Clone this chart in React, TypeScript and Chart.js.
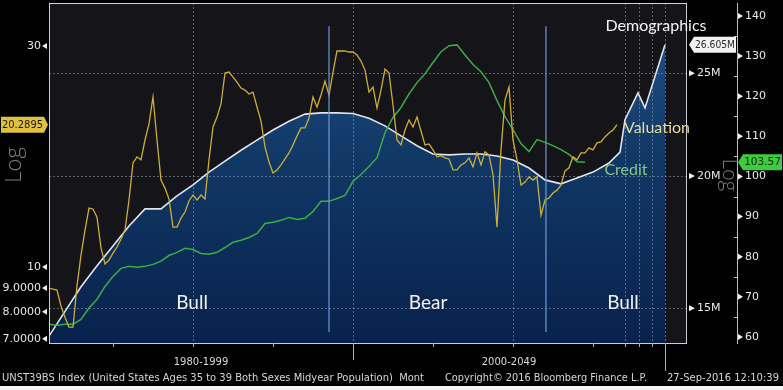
import React, { useEffect, useRef } from 'react';
import { Chart, registerables } from 'chart.js';

Chart.register(...registerables);

// ---------- data ----------
const X_MIN = 1981.0;
const X_MAX = 2020.875;

// Valuation (left log axis), quarterly from 1981
const VAL_START = 1981.0;
const VAL_STEP = 0.25;
const valuation = [
  9.0, 8.95, 8.91, 8.23, 7.79, 7.41, 7.41, 9.1, 10.61, 12.01,
  13.4, 13.34, 12.81, 10.99, 10.15, 10.35, 10.71, 11.04, 11.49, 12.01,
  13.95, 16.78, 17.29, 17.03, 18.8, 20.36, 23.28, 18.8, 15.4, 14.8,
  14.02, 12.19, 12.19, 12.75, 13.14, 13.88, 14.3, 13.95, 14.3, 14.02,
  17.03, 20.06, 21.08, 22.49, 26.23, 26.36, 25.71, 25.07, 24.34, 24.1,
  23.63, 23.86, 22.15, 20.66, 18.17, 16.85, 15.96, 16.2, 16.61, 17.11,
  17.63, 18.35, 19.18, 19.96, 19.96, 20.98, 23.28, 22.15, 23.51, 25.2,
  23.51, 26.36, 29.27, 29.27, 29.27, 29.12, 29.12, 28.69, 27.84, 26.62,
  23.86, 24.46, 22.04, 24.1, 26.76, 26.23, 22.37, 18.8, 18.35, 19.76,
  20.77, 20.06, 21.08, 19.66, 18.35, 18.44, 17.9, 17.29, 17.38, 17.2,
  17.11, 16.2, 16.2, 16.61, 16.78, 17.2, 16.45, 17.63, 16.61, 17.72,
  17.46, 15.8, 12.19, 17.9, 22.93, 24.46, 18.8, 17.03, 15.02, 15.25,
  15.65, 15.4, 15.65, 12.94, 13.95, 14.09, 14.44, 14.65, 15.02, 16.12,
  16.37, 17.29, 17.03, 17.63, 17.63, 18.08, 17.9, 18.53, 18.62, 19.09,
  19.47, 19.76, 20.29,
];

// Credit (right linear axis), half-yearly from 1981
const CREDIT_START = 1981.0;
const CREDIT_STEP = 0.5;
const credit = [
  63.2, 62.9, 63.2, 63.2, 64.4, 67.2, 69.4, 72.6, 75.1, 77.1,
  77.6, 77.4, 77.6, 78.1, 78.9, 80.3, 81.1, 82.1, 81.8, 80.8,
  80.6, 81.1, 82.3, 83.6, 84.1, 84.8, 85.8, 88.3, 88.6, 89.1,
  89.8, 89.3, 89.6, 91.3, 93.8, 93.8, 94.5, 95.3, 98.8, 100.5,
  102.5, 104.7, 110.9, 114.7, 117.2, 120.6, 123.4, 125.6, 128.4, 131.1,
  132.6, 132.8, 130.3, 127.9, 126.1, 123.4, 118.9, 114.9, 111.7, 108.2,
  106.2, 109.2, 108.5, 107.7, 106.7, 105.5, 103.7, 103.57,
];

// Demographics (middle log axis, millions)
const demoYears = [
  1981, 1982, 1983, 1984, 1985, 1986, 1987, 1988, 1989, 1990,
  1991, 1992, 1993, 1994, 1995, 1996, 1997, 1998, 1999, 2000,
  2001, 2002, 2003, 2004, 2005, 2006, 2007, 2008, 2009, 2010,
  2011, 2012, 2013, 2014, 2015, 2016, 2016.69, 2017.0, 2017.81, 2018.25,
  2019.5,
];
const demoValues = [
  14.12, 14.9, 15.72, 16.45, 17.18, 17.94, 18.62, 18.62, 19.15, 19.62,
  20.17, 20.66, 21.15, 21.62, 22.1, 22.53, 22.88, 22.94, 22.94, 22.91,
  22.67, 22.3, 21.82, 21.36, 20.98, 20.94, 20.98, 20.98, 20.89, 20.71,
  20.35, 19.83, 19.66, 19.91, 20.17, 20.57, 21.07, 22.6, 23.96, 23.19,
  26.605,
];

const LAST_VALUATION = 20.2895;
const LAST_DEMO = 26.605;
const LAST_CREDIT = 103.57;

// axes
const valTicks = [7, 8, 9, 10, 30];
const valTickLabels = ['7.0000', '8.0000', '9.0000', '10', '30'];
const demoTicks = [15, 20, 25];
const demoTickLabels = ['15M', '20M', '25M'];
const creditTicks = [60, 70, 80, 90, 100, 110, 120, 130, 140];
const creditMinorTicks = [65, 75, 85, 95, 105, 115, 125, 135];

const gridYears = [1990, 2000, 2010, 2017.0, 2017.875, 2018.69, 2019.5];
const tickYears = [1985, 1990, 1995, 2005, 2010, 2015, 2017.0, 2017.875, 2018.69];
const periodBreaks = [2000, 2019.5];
const periodLabels = ['1980-1999', '2000-2049'];
const regimeBreaks = [1998.5, 2012.06];
const regimeNames = ['Bull', 'Bear', 'Bull'];
const regimeNameYears = [1989.94, 2004.69, 2016.875];

const footerTexts = [
  'UNST39BS Index (United States Ages 35 to 39 Both Sexes Midyear Population)  Mont',
  'Copyright\u00A9 2016 Bloomberg Finance L.P.',
  '27-Sep-2016 12:10:39',
];

// ---------- plugin ----------
function line(ctx: CanvasRenderingContext2D, x1: number, y1: number, x2: number, y2: number) {
  ctx.beginPath();
  ctx.moveTo(x1, y1);
  ctx.lineTo(x2, y2);
  ctx.stroke();
}

function tri(ctx: CanvasRenderingContext2D, pts: number[][]) {
  ctx.beginPath();
  ctx.moveTo(pts[0][0], pts[0][1]);
  for (let i = 1; i < pts.length; i++) ctx.lineTo(pts[i][0], pts[i][1]);
  ctx.closePath();
  ctx.fill();
}

const bbgPlugin = {
  id: 'bbg',
  beforeDraw(chart: any) {
    const { ctx, chartArea: a, width, height } = chart;
    ctx.save();
    ctx.fillStyle = '#000';
    ctx.fillRect(0, 0, width, height);
    ctx.fillStyle = '#f4f4f4';
    ctx.fillRect(0, height - 4, width, 4);
    ctx.fillStyle = '#141419';
    ctx.fillRect(a.left, a.top, a.right - a.left, a.bottom - a.top);
    ctx.restore();
  },
  afterDatasetDraw(chart: any, args: any) {
    if (args.index !== 0) return;
    const { ctx, chartArea: a } = chart;
    const xs = chart.scales.x;
    const yD = chart.scales.yDemo;
    ctx.save();
    ctx.beginPath();
    ctx.rect(a.left, a.top, a.right - a.left, a.bottom - a.top);
    ctx.clip();
    ctx.strokeStyle = 'rgba(150,160,180,0.55)';
    ctx.lineWidth = 1;
    ctx.setLineDash([2, 2]);
    for (const yr of gridYears) {
      const px = Math.round(xs.getPixelForValue(yr)) + 0.5;
      line(ctx, px, a.top, px, a.bottom);
    }
    for (const v of demoTicks) {
      const py = Math.round(yD.getPixelForValue(v)) + 0.5;
      line(ctx, a.left, py, a.right, py);
    }
    ctx.restore();
  },
  afterDatasetsDraw(chart: any) {
    const { ctx, chartArea: a } = chart;
    const xs = chart.scales.x;
    const yV = chart.scales.yVal;
    const yD = chart.scales.yDemo;
    const yC = chart.scales.yCredit;
    ctx.save();

    // regime lines
    ctx.strokeStyle = '#6c9ad6';
    ctx.lineWidth = 1.2;
    for (const yr of regimeBreaks) {
      const px = xs.getPixelForValue(yr);
      line(ctx, px, yD.getPixelForValue(27.7), px, yD.getPixelForValue(14.25));
    }

    // frame
    ctx.strokeStyle = '#cfcfcf';
    ctx.lineWidth = 1;
    ctx.strokeRect(a.left + 0.5, a.top + 0.5, a.right - a.left - 1, a.bottom - a.top);

    // bottom ticks and separators
    ctx.strokeStyle = '#b0b0b0';
    for (const yr of tickYears) {
      const px = Math.round(xs.getPixelForValue(yr)) + 0.5;
      line(ctx, px, a.bottom, px, a.bottom + 4);
    }
    const sepLen = [17, 28];
    periodBreaks.forEach((yr, i) => {
      const px = Math.round(xs.getPixelForValue(yr)) + 0.5;
      line(ctx, px, a.bottom, px, a.bottom + sepLen[i]);
    });

    // period labels
    ctx.fillStyle = '#d8d8d8';
    ctx.font = '10px "DejaVu Sans"';
    ctx.textAlign = 'center';
    ctx.textBaseline = 'middle';
    const edges = [a.left, ...periodBreaks.map((y) => xs.getPixelForValue(y))];
    periodLabels.forEach((t, i) => {
      ctx.fillText(t, (edges[i] + edges[i + 1]) / 2, 362);
    });

    // footer
    ctx.textAlign = 'left';
    ctx.font = '10.5px "DejaVu Sans"';
    ctx.fillStyle = '#d6d6d6';
    ctx.fillText(footerTexts[0], 2, 378, 422);
    ctx.fillText(footerTexts[1], 445, 378, 202);
    ctx.fillText(footerTexts[2], 667, 378, 112);

    // tick triangles
    ctx.fillStyle = '#f0f0f0';
    for (const v of valTicks) {
      const py = yV.getPixelForValue(v);
      tri(ctx, [[42, py], [47, py - 3], [47, py + 3]]);
    }
    for (const v of demoTicks) {
      const py = yD.getPixelForValue(v);
      tri(ctx, [[a.right + 2, py - 3], [a.right + 2, py + 3], [a.right + 8, py]]);
    }
    for (const v of creditTicks) {
      const py = yC.getPixelForValue(v);
      tri(ctx, [[yC.left + 1, py - 3], [yC.left + 1, py + 3], [yC.left + 6, py]]);
    }
    ctx.strokeStyle = '#bdbdbd';
    for (const v of creditMinorTicks) {
      const py = Math.round(yC.getPixelForValue(v)) + 0.5;
      line(ctx, yC.left - 3, py, yC.left, py);
    }

    // value tags
    const tag = (x1: number, x2: number, tip: number, py: number, bg: string, fg: string, text: string) => {
      ctx.fillStyle = bg;
      ctx.beginPath();
      if (tip > x2) {
        ctx.moveTo(x1, py - 8);
        ctx.lineTo(x2, py - 8);
        ctx.lineTo(tip, py);
        ctx.lineTo(x2, py + 8);
        ctx.lineTo(x1, py + 8);
      } else {
        ctx.moveTo(tip, py);
        ctx.lineTo(x1, py - 8);
        ctx.lineTo(x2, py - 8);
        ctx.lineTo(x2, py + 8);
        ctx.lineTo(x1, py + 8);
      }
      ctx.closePath();
      ctx.fill();
      ctx.fillStyle = fg;
      ctx.font = '10.5px "DejaVu Sans"';
      ctx.textAlign = 'center';
      ctx.textBaseline = 'middle';
      ctx.fillText(text, (x1 + x2) / 2, py + 0.5, x2 - x1 - 2);
    };
    tag(1, 44, 48, yV.getPixelForValue(LAST_VALUATION), '#e2c23d', '#161616', String(LAST_VALUATION));
    tag(694, 736, 689, yD.getPixelForValue(LAST_DEMO), '#f2f2f2', '#2a2a2a', LAST_DEMO.toFixed(3) + 'M');
    tag(743, 782, 738, yC.getPixelForValue(LAST_CREDIT), '#3ccc3c', '#0c250c', String(LAST_CREDIT));

    // Log labels
    ctx.fillStyle = '#7d7d7d';
    ctx.font = '300 22px "Open Sans"';
    ctx.textAlign = 'center';
    ctx.textBaseline = 'middle';
    ctx.save();
    ctx.translate(15, 165);
    ctx.rotate(-Math.PI / 2);
    ctx.fillText('Log', 0, 0);
    ctx.restore();
    ctx.save();
    ctx.font = '300 20px "Open Sans"';
    ctx.translate(729, 175);
    ctx.rotate(Math.PI / 2);
    ctx.fillText('Log', 0, 0);
    ctx.restore();

    // annotations
    ctx.textAlign = 'center';
    ctx.textBaseline = 'middle';
    ctx.font = '16px Lato';
    ctx.fillStyle = '#f4f4f4';
    ctx.fillText('Demographics', xs.getPixelForValue(2018.94), yD.getPixelForValue(27.71));
    ctx.fillStyle = '#e8d99c';
    ctx.fillText('Valuation', xs.getPixelForValue(2019.0), yD.getPixelForValue(22.2));
    ctx.fillStyle = '#86c786';
    ctx.fillText('Credit', xs.getPixelForValue(2017.06), yD.getPixelForValue(20.26));
    ctx.font = '19px Lato';
    ctx.fillStyle = '#f2f2f2';
    regimeNames.forEach((t, i) => {
      ctx.fillText(t, xs.getPixelForValue(regimeNameYears[i]), yD.getPixelForValue(15.18));
    });

    ctx.restore();
  },
};

const noPadY = (s: any) => {
  s.paddingTop = 0;
  s.paddingBottom = 0;
};

// ---------- component ----------
export default function App() {
  const ref = useRef<HTMLCanvasElement | null>(null);

  useEffect(() => {
    document.body.style.margin = '0';
    document.body.style.background = '#000';
    const canvas = ref.current;
    if (!canvas) return;

    const demoData = demoYears.map((x, i) => ({ x, y: demoValues[i] }));
    const valData = valuation.map((y, i) => ({ x: VAL_START + i * VAL_STEP, y }));
    const creditData = credit.map((y, i) => ({ x: CREDIT_START + i * CREDIT_STEP, y }));

    const tickFont = { family: 'DejaVu Sans', size: 11 };

    const chart = new Chart(canvas, {
      type: 'line',
      data: {
        datasets: [
          {
            data: demoData,
            yAxisID: 'yDemo',
            borderWidth: 0,
            pointRadius: 0,
            fill: 'start',
            order: 10,
            backgroundColor: (c: any) => {
              const ch = c.chart;
              const a = ch.chartArea;
              if (!a) return '#10305c';
              const g = ch.ctx.createLinearGradient(0, a.top, 0, a.bottom);
              g.addColorStop(0, '#22558c');
              g.addColorStop(0.45, '#113866');
              g.addColorStop(1, '#08224c');
              return g;
            },
          },
          {
            data: demoData,
            yAxisID: 'yDemo',
            borderColor: '#dfe5ef',
            borderWidth: 1.6,
            pointRadius: 0,
            fill: false,
            order: 9,
          },
          {
            data: creditData,
            yAxisID: 'yCredit',
            borderColor: '#3aad45',
            borderWidth: 1.5,
            pointRadius: 0,
            fill: false,
            order: 2,
          },
          {
            data: valData,
            yAxisID: 'yVal',
            borderColor: '#cfae33',
            borderWidth: 1.3,
            pointRadius: 0,
            fill: false,
            order: 1,
          },
        ],
      },
      options: {
        responsive: false,
        maintainAspectRatio: false,
        animation: false,
        events: [],
        layout: { padding: { top: 3, left: 0, right: 0, bottom: 0 } },
        plugins: { legend: { display: false }, tooltip: { enabled: false } },
        elements: { line: { tension: 0 } },
        scales: {
          x: {
            type: 'linear',
            min: X_MIN,
            max: X_MAX,
            grid: { display: false },
            border: { display: false },
            ticks: { display: false },
            afterFit: (s: any) => {
              s.height = 47;
              s.paddingLeft = 0;
              s.paddingRight = 0;
            },
          },
          yVal: {
            type: 'logarithmic',
            position: 'left',
            min: 6.85,
            max: 37.16,
            grid: { display: false, drawTicks: false },
            border: { display: false },
            ticks: {
              color: '#e8e8e8',
              font: tickFont,
              padding: 8,
              autoSkip: false,
              callback: (v: any) => {
                const i = valTicks.indexOf(Number(v));
                return i >= 0 ? valTickLabels[i] : '';
              },
            },
            afterBuildTicks: (s: any) => {
              s.ticks = valTicks.map((v) => ({ value: v }));
            },
            afterFit: (s: any) => {
              s.width = 49;
              noPadY(s);
            },
          },
          yDemo: {
            type: 'logarithmic',
            position: 'right',
            weight: 0,
            min: 13.91,
            max: 29.13,
            grid: { display: false, drawTicks: false },
            border: { display: false },
            ticks: {
              color: '#e8e8e8',
              font: tickFont,
              padding: 10,
              autoSkip: false,
              callback: (v: any) => {
                const i = demoTicks.indexOf(Number(v));
                return i >= 0 ? demoTickLabels[i] : '';
              },
            },
            afterBuildTicks: (s: any) => {
              s.ticks = demoTicks.map((v) => ({ value: v }));
            },
            afterFit: (s: any) => {
              s.width = 50;
              noPadY(s);
            },
          },
          yCredit: {
            type: 'linear',
            position: 'right',
            weight: 1,
            min: 58.5,
            max: 143.24,
            grid: { display: false, drawTicks: false },
            border: { display: true, color: '#bdbdbd', width: 1 },
            ticks: {
              color: '#e8e8e8',
              font: tickFont,
              padding: 8,
              autoSkip: false,
            },
            afterBuildTicks: (s: any) => {
              s.ticks = creditTicks.map((v) => ({ value: v }));
            },
            afterFit: (s: any) => {
              s.width = 46;
              noPadY(s);
            },
          },
        },
      },
      plugins: [bbgPlugin],
    } as any);

    return () => chart.destroy();
  }, []);

  return <canvas ref={ref} width={783} height={390} style={{ display: 'block' }} />;
}
